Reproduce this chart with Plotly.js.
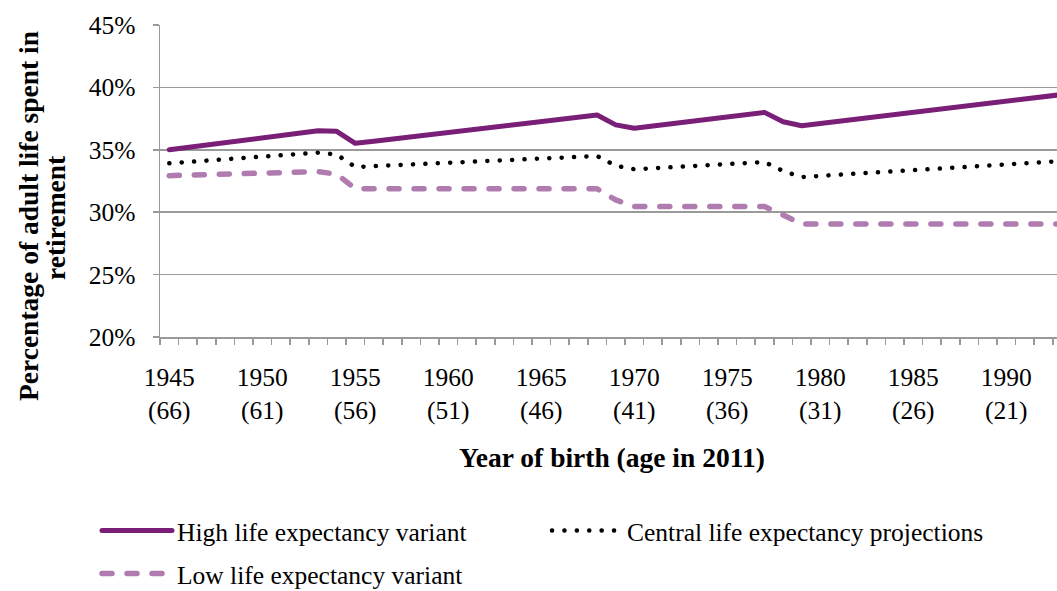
<!DOCTYPE html>
<html>
<head>
<meta charset="utf-8">
<script src="https://cdn.plot.ly/plotly-3.0.1.min.js"></script>
<style>
  html, body { margin: 0; padding: 0; background: #fff; }
  #chart { width: 1057px; height: 591px; }
  .scatterlayer path.js-line, .legendlines path { stroke-linecap: round; stroke-linejoin: round; }
</style>
</head>
<body>
<div id="chart"></div>
<script>
// Year of birth categories
const years = [1945,1946,1947,1948,1949,1950,1951,1952,1953,1954,1955,1956,1957,1958,1959,1960,
  1961,1962,1963,1964,1965,1966,1967,1968,1969,1970,1971,1972,1973,1974,1975,1976,1977,1978,1979,
  1980,1981,1982,1983,1984,1985,1986,1987,1988,1989,1990,1991,1992,1993];

// Percentage of adult life spent in retirement (%)
const highVariant = [35.00,35.19,35.38,35.57,35.76,35.95,36.14,36.33,36.52,36.48,35.52,35.69,35.86,36.04,
  36.21,36.39,36.56,36.74,36.91,37.09,37.26,37.44,37.61,37.79,37.00,36.72,36.90,37.08,37.27,37.45,37.63,
  37.82,38.00,37.25,36.93,37.11,37.29,37.47,37.64,37.82,38.00,38.18,38.36,38.54,38.72,38.90,39.07,39.25,39.43];

const centralProjection = [33.92,34.03,34.13,34.24,34.35,34.45,34.56,34.66,34.77,34.62,33.62,33.69,33.76,
  33.82,33.89,33.96,34.03,34.09,34.16,34.23,34.30,34.36,34.43,34.50,33.72,33.44,33.52,33.61,33.69,33.77,
  33.85,33.94,34.02,33.30,32.82,32.91,33.00,33.09,33.19,33.28,33.37,33.46,33.55,33.64,33.73,33.83,33.92,34.01,34.10];

const lowVariant = [32.93,32.97,33.01,33.05,33.09,33.13,33.17,33.21,33.25,33.05,31.88,31.88,31.88,31.88,
  31.88,31.88,31.88,31.88,31.88,31.88,31.88,31.88,31.88,31.88,30.98,30.46,30.46,30.46,30.46,30.46,30.46,
  30.46,30.46,29.78,29.05,29.05,29.05,29.05,29.05,29.05,29.05,29.05,29.05,29.05,29.05,29.05,29.05,29.05,29.05];

// Tick labels
const tickYears = [1945,1950,1955,1960,1965,1970,1975,1980,1985,1990];
const tickAges = ["(66)","(61)","(56)","(51)","(46)","(41)","(36)","(31)","(26)","(21)"];
const yTicks = [20,25,30,35,40,45];

const seriesNames = ["High life expectancy variant","Central life expectancy projections","Low life expectancy variant"];

const FONT = "Liberation Serif, Times New Roman, serif";
const GRID = "#9a9a9a";
const TXT = 25.5, TTL = 27.5;

const W = 1057, H = 591;
const L = 160, R = 0, T = 25, B = 254;
const pw = W - L - R, ph = H - T - B;
const px = x => (x - L) / pw;
const py = y => (H - B - y) / ph;

const traces = [
  { x: years, y: highVariant, name: seriesNames[0], type: "scatter", mode: "lines",
    line: { color: "#7a1f78", width: 5 }, legend: "legend" },
  { x: years, y: centralProjection, name: seriesNames[1], type: "scatter", mode: "lines",
    line: { color: "#000000", width: 4.5, dash: "0.1px,12.3px" }, legend: "legend" },
  { x: years, y: lowVariant, name: seriesNames[2], type: "scatter", mode: "lines",
    line: { color: "#b07cb0", width: 5.5, dash: "10px,15px" }, legend: "legend2" }
];

const layout = {
  width: W, height: H,
  margin: { l: L, r: R, t: T, b: B, pad: 0, autoexpand: false },
  paper_bgcolor: "#fff", plot_bgcolor: "#fff",
  font: { family: FONT, size: TXT, color: "#000" },
  showlegend: true,
  xaxis: {
    range: [1944.5, 1944.5 + pw / 18.6],
    tickmode: "array",
    tickvals: tickYears,
    ticktext: tickYears.map((y, i) => y + "<br>" + tickAges[i]),
    ticks: "",
    showgrid: false, zeroline: false,
    showline: true, linecolor: GRID, linewidth: 1.5,
    tickfont: { family: FONT, size: TXT, color: "#000" },
    ticklabelstandoff: 17,
    minor: { tick0: 1944.5, dtick: 1, ticks: "outside", ticklen: 6, tickwidth: 1.5, tickcolor: GRID, showgrid: false },
    automargin: false,
    fixedrange: true
  },
  yaxis: {
    range: [20, 45],
    tickmode: "array",
    tickvals: yTicks,
    ticktext: yTicks.map(v => v + "%"),
    ticks: "outside", ticklen: 6, tickwidth: 1.5, tickcolor: GRID,
    showgrid: true, gridcolor: GRID, gridwidth: 1.5,
    zeroline: false,
    showline: true, linecolor: GRID, linewidth: 1.5,
    tickfont: { family: FONT, size: TXT, color: "#000" },
    ticklabelstandoff: 12,
    title: { text: "" },
    automargin: false,
    fixedrange: true
  },
  legend: {
    orientation: "h", x: px(97), y: py(531), xanchor: "left", yanchor: "middle",
    itemwidth: 70, entrywidth: 365, entrywidthmode: "pixels",
    font: { family: FONT, size: TXT, color: "#000" }, bgcolor: "rgba(0,0,0,0)"
  },
  legend2: {
    orientation: "h", x: px(97), y: py(574), xanchor: "left", yanchor: "middle",
    itemwidth: 70,
    font: { family: FONT, size: TXT, color: "#000" }, bgcolor: "rgba(0,0,0,0)"
  },
  annotations: [
    { text: "<b>Percentage of adult life spent in</b>", xref: "paper", yref: "paper",
      x: px(28), y: py(216), textangle: -90, showarrow: false,
      font: { family: FONT, size: TTL, color: "#000" }, xanchor: "center", yanchor: "middle" },
    { text: "<b>retirement</b>", xref: "paper", yref: "paper",
      x: px(55), y: py(218), textangle: -90, showarrow: false,
      font: { family: FONT, size: TTL, color: "#000" }, xanchor: "center", yanchor: "middle" },
    { text: "<b>Year of birth (age in 2011)</b>", xref: "paper", yref: "paper",
      x: px(612), y: py(457), showarrow: false,
      font: { family: FONT, size: TTL, color: "#000" }, xanchor: "center", yanchor: "middle" }
  ]
};

Plotly.newPlot("chart", traces, layout, { displayModeBar: false, staticPlot: true });
</script>
</body>
</html>
